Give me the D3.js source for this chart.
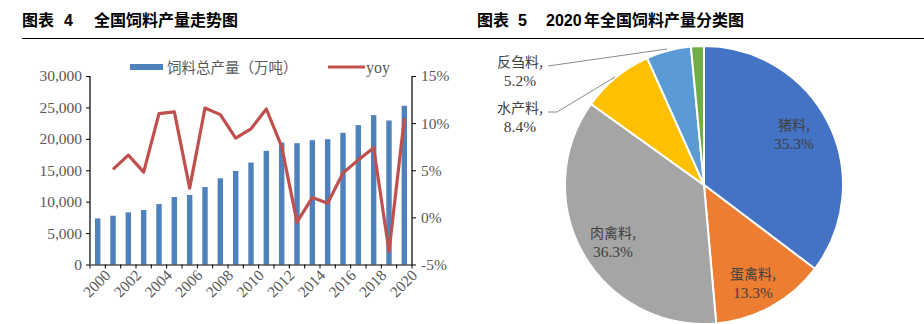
<!DOCTYPE html>
<html><head><meta charset="utf-8">
<script src="https://cdn.jsdelivr.net/npm/d3@7"></script>
<style>body{margin:0;background:#fff}svg{display:block}</style>
</head><body>
<svg id="c" width="924" height="324"></svg>
<script>
const years = ["2000","2001","2002","2003","2004","2005","2006","2007","2008","2009","2010","2011","2012","2013","2014","2015","2016","2017","2018","2019","2020"];
const output = [7340,7760,8300,8670,9620,10740,11060,12330,13720,14890,16220,18090,19410,19310,19790,19950,20950,22180,23780,22920,25260];
const yoy = [null,5.1,6.6,4.8,11.0,11.2,3.1,11.6,10.9,8.4,9.4,11.5,7.5,-0.5,2.1,1.5,4.7,6.1,7.4,-3.6,10.5];
const leftTicks = [0,5000,10000,15000,20000,25000,30000];
const rightTicks = [-5,0,5,10,15];
const xTickYears = ["2000","2002","2004","2006","2008","2010","2012","2014","2016","2018","2020"];
const pieNames = ["猪料","蛋禽料","肉禽料","水产料","反刍料","其他"];
const pieValues = [35.3,13.3,36.3,8.4,5.2,1.5];
const pieColors = ["#4472C4","#ED7D31","#A5A5A5","#FFC000","#5B9BD5","#70AD47"];

const svg = d3.select("#c");
const cjk = "'Noto Sans CJK SC', sans-serif";
const serif = "'Liberation Serif', 'Times New Roman', serif";

// titles
function title(parts){
  parts.forEach(([tx,px,ff])=>{
    svg.append("text").attr("x",px).attr("y",26).attr("font-family",ff).attr("font-weight","bold")
      .attr("font-size",16).attr("fill","#000").text(tx);
  });
}
const arial = "'Liberation Sans', Arial, sans-serif";
title([["图表",22,cjk],["4",64,arial],["全国饲料产量走势图",94,cjk]]);
title([["图表",477,cjk],["5",518,arial],["2020",546,arial],["年全国饲料产量分类图",584,cjk]]);
svg.append("line").attr("x1",22).attr("x2",924).attr("y1",38.5).attr("y2",38.5).attr("stroke","#000").attr("stroke-width",1.2);

// bar chart
const x = d3.scaleBand().domain(years).range([90,412]).paddingInner(0).paddingOuter(0);
const yL = d3.scaleLinear().domain([0,30000]).range([264.5,76]);
const yR = d3.scaleLinear().domain([-5,15]).range([264.5,76]);

const g = svg.append("g");
g.selectAll("rect.bar").data(years).enter().append("rect")
  .attr("x",d=>x(d)+x.bandwidth()/2-2.7).attr("width",5.4)
  .attr("y",(d,i)=>yL(output[i])).attr("height",(d,i)=>yL(0)-yL(output[i]))
  .attr("fill","#4F81BD");

const axL = d3.axisLeft(yL).tickValues(leftTicks).tickSize(4).tickFormat(d3.format(","));
const gL = g.append("g").attr("transform","translate(90,0)").call(axL);
const axR = d3.axisRight(yR).tickValues(rightTicks).tickSize(4).tickFormat(d=>d+"%");
const gR = g.append("g").attr("transform","translate(412,0)").call(axR);
const axB = d3.axisBottom(x).tickValues(years).tickSize(4).tickSizeOuter(0).tickFormat(d=>xTickYears.includes(d)?d:"");
const gB = g.append("g").attr("transform","translate(0,264.5)").call(axB);
gB.selectAll(".tick line").attr("transform",`translate(${-x.bandwidth()/2},0)`);
gB.append("line").attr("x1",412).attr("x2",412).attr("y1",0).attr("y2",4).attr("stroke","#000");
[gL,gR,gB].forEach(a=>{
  a.select(".domain").attr("stroke","#000").attr("stroke-width",1.2);
  a.selectAll(".tick line").attr("stroke","#000");
  a.selectAll("text").attr("font-family",serif).attr("font-size",15.5).attr("fill","#595959");
});
gL.select(".domain").attr("d","M0,76V264.5");
gR.select(".domain").attr("d","M0,76V264.5");
gL.selectAll("text").attr("x",-8);
gR.selectAll("text").attr("x",9);
gB.selectAll("text").attr("transform","rotate(-45)").attr("text-anchor","end").attr("dx","-0.1em").attr("dy","0.85em").attr("y",5).attr("x",3);

const line = d3.line().defined(d=>d[1]!==null).x(d=>x(d[0])+x.bandwidth()/2).y(d=>yR(d[1]));
g.append("path").datum(years.map((d,i)=>[d,yoy[i]])).attr("d",line)
  .attr("fill","none").attr("stroke","#C0504D").attr("stroke-width",3.2).attr("stroke-linejoin","round");

// legend
g.append("rect").attr("x",130).attr("y",64).attr("width",33).attr("height",6).attr("fill","#4F81BD");
g.append("text").attr("x",167).attr("y",72.5).attr("font-family",cjk).attr("font-size",14.5).attr("fill","#595959").text("饲料总产量（万吨）");
g.append("line").attr("x1",328).attr("x2",365).attr("y1",67).attr("y2",67).attr("stroke","#C0504D").attr("stroke-width",3.2);
g.append("text").attr("x",366).attr("y",73).attr("font-family",serif).attr("font-size",16).attr("fill","#595959").text("yoy");

// pie
const cx = 704, cy = 185, r = 139;
const pie = d3.pie().sort(null).value(d=>d)(pieValues);
const arc = d3.arc().innerRadius(0).outerRadius(r);
const pg = svg.append("g").attr("transform",`translate(${cx},${cy})`);
pg.selectAll("path").data(pie).enter().append("path").attr("d",arc)
  .attr("fill",(d,i)=>pieColors[i]).attr("stroke","#fff").attr("stroke-width",2);

const labelFont = (sel)=>sel.attr("font-family",serif).attr("font-size",15.5).attr("fill","#404040").attr("text-anchor","middle");
function pieLabel(i,lx,ly){
  const t = svg.append("text").call(labelFont);
  t.append("tspan").attr("x",lx).attr("y",ly).attr("font-family",cjk).attr("font-size",14).text(pieNames[i]+",");
  t.append("tspan").attr("x",lx).attr("y",ly+19).text(pieValues[i].toFixed(1)+"%");
}
pieLabel(0,794,130);
pieLabel(1,753,279);
pieLabel(2,613,238);
pieLabel(4,520,67);
pieLabel(3,520,113);
const leaders = [[[548,66],[667,49]],[[548,112],[557,112],[615,77]]];
leaders.forEach(pts=>svg.append("path").attr("d",d3.line()(pts)).attr("fill","none").attr("stroke","#8c8c8c").attr("stroke-width",1));
</script>
</body></html>
